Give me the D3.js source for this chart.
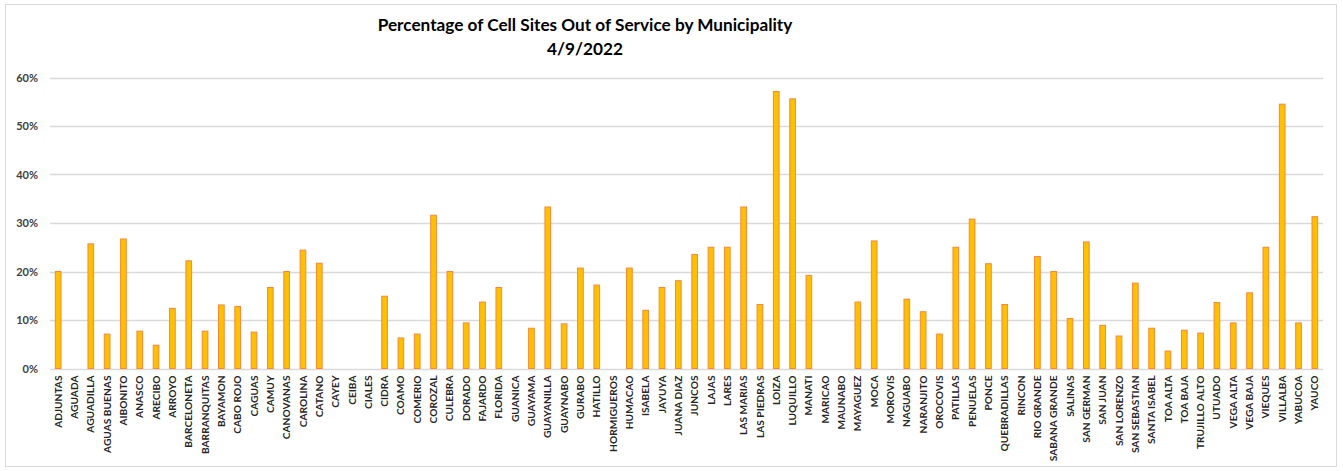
<!DOCTYPE html>
<html>
<head>
<meta charset="utf-8">
<script src="https://cdn.jsdelivr.net/npm/d3@7"></script>
<style>
  html, body { margin: 0; padding: 0; background: #fff; }
  svg { display: block; font-family: Lato, "Open Sans", sans-serif; }
</style>
</head>
<body>
<svg id="chart" width="1343" height="471"></svg>
<script>
// ---------- data ----------
var municipalities = [
  "ADJUNTAS", "AGUADA", "AGUADILLA", "AGUAS BUENAS", "AIBONITO", "ANASCO", "ARECIBO", "ARROYO", "BARCELONETA", "BARRANQUITAS",
  "BAYAMON", "CABO ROJO", "CAGUAS", "CAMUY", "CANOVANAS", "CAROLINA", "CATANO", "CAYEY", "CEIBA", "CIALES",
  "CIDRA", "COAMO", "COMERIO", "COROZAL", "CULEBRA", "DORADO", "FAJARDO", "FLORIDA", "GUANICA", "GUAYAMA",
  "GUAYANILLA", "GUAYNABO", "GURABO", "HATILLO", "HORMIGUEROS", "HUMACAO", "ISABELA", "JAYUYA", "JUANA DIAZ", "JUNCOS",
  "LAJAS", "LARES", "LAS MARIAS", "LAS PIEDRAS", "LOIZA", "LUQUILLO", "MANATI", "MARICAO", "MAUNABO", "MAYAGUEZ",
  "MOCA", "MOROVIS", "NAGUABO", "NARANJITO", "OROCOVIS", "PATILLAS", "PENUELAS", "PONCE", "QUEBRADILLAS", "RINCON",
  "RIO GRANDE", "SABANA GRANDE", "SALINAS", "SAN GERMAN", "SAN JUAN", "SAN LORENZO", "SAN SEBASTIAN", "SANTA ISABEL", "TOA ALTA", "TOA BAJA",
  "TRUJILLO ALTO", "UTUADO", "VEGA ALTA", "VEGA BAJA", "VIEQUES", "VILLALBA", "YABUCOA", "YAUCO"
];
// percentage out of service (0..1)
var outOfService = [
  0.200, 0, 0.257, 0.071, 0.267, 0.077, 0.048, 0.124, 0.222, 0.077,
  0.131, 0.128, 0.075, 0.167, 0.200, 0.244, 0.217, 0, 0, 0,
  0.149, 0.063, 0.071, 0.316, 0.200, 0.094, 0.137, 0.167, 0, 0.083,
  0.333, 0.092, 0.207, 0.172, 0, 0.207, 0.120, 0.167, 0.181, 0.235,
  0.250, 0.250, 0.333, 0.132, 0.571, 0.556, 0.192, 0, 0, 0.137,
  0.263, 0, 0.143, 0.117, 0.071, 0.250, 0.308, 0.216, 0.132, 0,
  0.231, 0.200, 0.103, 0.261, 0.089, 0.067, 0.176, 0.083, 0.036, 0.079,
  0.073, 0.136, 0.094, 0.156, 0.250, 0.545, 0.094, 0.313
];
var yTicks = [0, 0.1, 0.2, 0.3, 0.4, 0.5, 0.6];
var titleLines = ["Percentage of Cell Sites Out of Service by Municipality", "4/9/2022"];

// ---------- layout ----------
var svg = d3.select("#chart");
var plot = { l: 50, r: 1323, t: 77.5, b: 368.5 };

svg.append("rect").attr("x", 5.5).attr("y", 4.5).attr("width", 1331).attr("height", 462)
  .attr("fill", "#fff").attr("stroke", "#d9d9d9").attr("stroke-width", 1);

var x = d3.scaleBand().domain(municipalities).range([plot.l, plot.r]).paddingInner(0.59).paddingOuter(0.295);
var y = d3.scaleLinear().domain([0, 0.6]).range([plot.b, plot.t]);

// gridlines
svg.append("g").selectAll("line").data(yTicks).enter().append("line")
  .attr("x1", plot.l).attr("x2", plot.r)
  .attr("y1", function (d) { return Math.round(y(d)) + 0.5; })
  .attr("y2", function (d) { return Math.round(y(d)) + 0.5; })
  .attr("stroke", "#d9d9d9").attr("stroke-width", 1.3);

// y axis labels
var yAxis = d3.axisLeft(y).tickValues(yTicks).tickFormat(d3.format(".0%")).tickSize(0).tickPadding(12);
var yg = svg.append("g").attr("transform", "translate(" + plot.l + ",0)").call(yAxis);
yg.select(".domain").remove();
yg.selectAll("text").attr("font-size", 11).attr("font-weight", 700).attr("fill", "#404040")
  .attr("font-family", "Lato, sans-serif");

// bars
svg.append("g").selectAll("rect").data(municipalities).enter().append("rect")
  .attr("x", function (d) { return x(d) + 0.5; })
  .attr("width", x.bandwidth() - 1)
  .attr("y", function (d, i) { return y(outOfService[i]); })
  .attr("height", function (d, i) { return plot.b - y(outOfService[i]); })
  .attr("fill", "#ffc000").attr("stroke", "#f4893c").attr("stroke-width", 1)
  .style("display", function (d, i) { return outOfService[i] > 0 ? null : "none"; });

// x axis labels (rotated)
var xAxis = d3.axisBottom(x).tickSize(0).tickPadding(0);
var xg = svg.append("g").attr("transform", "translate(0," + plot.b + ")").call(xAxis);
xg.select(".domain").remove();
xg.selectAll("text")
  .attr("transform", "rotate(-90)")
  .attr("text-anchor", "end")
  .attr("dy", "0.35em")
  .attr("x", -7).attr("y", 0)
  .attr("font-size", 10.2).attr("font-weight", 700).attr("fill", "#262626")
  .attr("font-family", "Lato, sans-serif");

// title
svg.append("g").selectAll("text").data(titleLines).enter().append("text")
  .attr("x", 585).attr("y", function (d, i) { return 31 + i * 24; })
  .attr("text-anchor", "middle")
  .attr("font-size", 17.2).attr("font-weight", 700).attr("fill", "#000")
  .text(function (d) { return d; });
</script>
</body>
</html>
